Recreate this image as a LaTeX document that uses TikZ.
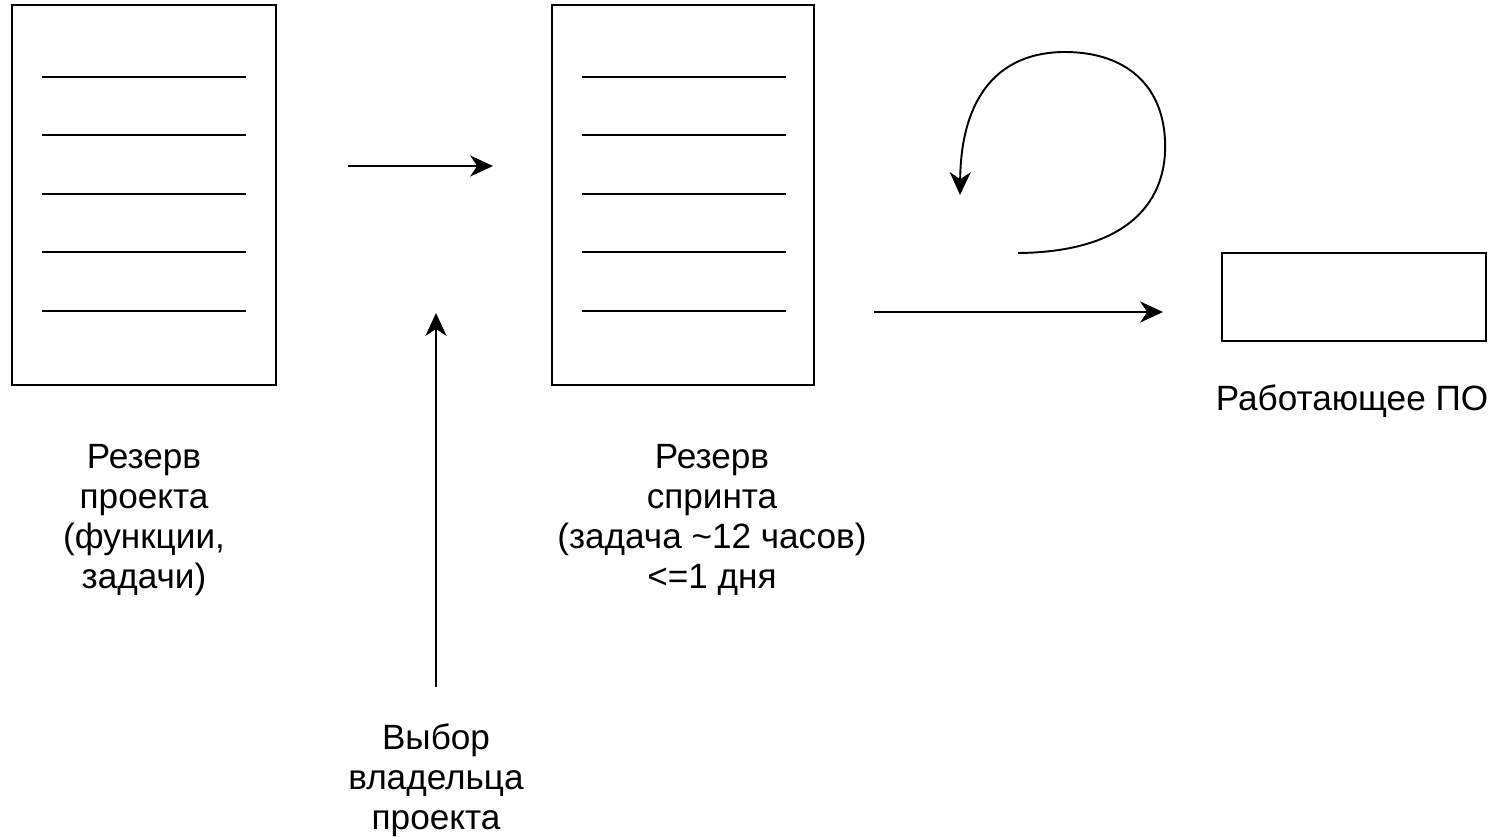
\documentclass[tikz,border=0pt]{standalone}
\usepackage{fontspec}
\setmainfont{Liberation Sans}
\usetikzlibrary{arrows.meta}

\begin{document}
\begin{tikzpicture}[x=0.02cm,y=-0.02cm,line width=1.1pt,
  >={Stealth[length=13pt,width=12pt,inset=4pt]},
  list/.style={draw,minimum width=5.28cm,minimum height=7.6cm,inner sep=0pt},
  caption/.style={align=center,font=\fontsize{20}{22.7}\selectfont}]
\useasboundingbox (0,0) rectangle (1496,836);
% the two backlogs and the result
\node [list] (project) at (144,195) {};
\node [list,minimum width=5.24cm] (sprint) at (683,195) {};
\node [draw,minimum width=5.28cm,minimum height=1.76cm,inner sep=0pt] (software) at (1354,297) {};
% rows of each list
\foreach \dy in {-118,-60,-1,57,116} {
  \draw ([shift={(-102,\dy)}]project.center) -- ++(204,0);
  \draw ([shift={(-101,\dy)}]sprint.center) -- ++(204,0);
}
\node [caption] (projectlabel) at (144,520) {Резерв\\проекта\\(функции,\\задачи)};
\node [caption] (sprintlabel) at (712,520) {Резерв\\спринта\\(задача \textasciitilde12 часов)\\<=1 дня};
\node [caption] (softwarelabel) at (1352,401) {Работающее ПО};
\node [caption] (choice) at (436,780) {Выбор\\владельца\\проекта};
% arrows
\coordinate (a1) at (348,166);
\coordinate (a2) at (493,166);
\coordinate (up) at (436,313);
\coordinate (b1) at (874,312);
\coordinate (b2) at (1163,312);
\coordinate (loopstart) at (1018,253);
\coordinate (loopend) at (960,195);
\draw [->] (a1) -- (a2);
\draw [->] (choice.north) ++(0,-30) -- (up);
\draw [->] (b1) -- (b2);
\draw [->] (loopstart) .. controls (1130,252) and (1168,200) .. (1165,140)
  .. controls (1162,80) and (1120,52) .. (1065,52)
  .. controls (1000,52) and (961,95) .. (loopend);
\end{tikzpicture}
\end{document}
